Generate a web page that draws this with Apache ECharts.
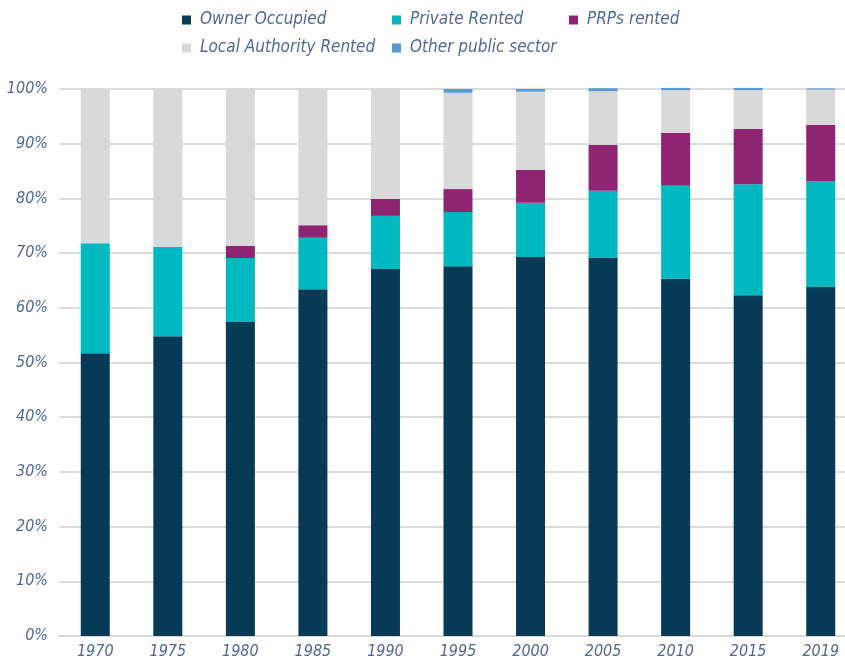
<!DOCTYPE html>
<html>
<head>
<meta charset="utf-8">
<script src="https://cdn.jsdelivr.net/npm/echarts@6/dist/echarts.min.js"></script>
<style>
html,body{margin:0;padding:0;background:#fff;}
#chart{width:845px;height:660px;}
</style>
</head>
<body>
<div id="chart"></div>
<script>
var years = ['1970','1975','1980','1985','1990','1995','2000','2005','2010','2015','2019'];
var ownerOccupied = [51.7, 54.8, 57.4, 63.4, 67.1, 67.6, 69.3, 69.1, 65.3, 62.3, 63.8];
var privateRented = [20.1, 16.3, 11.7, 9.4, 9.7, 9.9, 9.9, 12.3, 17.0, 20.3, 19.4];
var prpsRented = [0, 0, 2.2, 2.3, 3.1, 4.2, 6.0, 8.4, 9.7, 10.1, 10.2];
var localAuthority = [28.2, 28.9, 28.7, 24.9, 20.1, 17.6, 14.3, 9.8, 7.8, 7.1, 6.5];
var otherPublic = [0, 0, 0, 0, 0, 0.7, 0.5, 0.55, 0.4, 0.4, 0.2];
var yTicks = [0, 10, 20, 30, 40, 50, 60, 70, 80, 90, 100];

var seriesNames = ['Owner Occupied','Private Rented','PRPs rented','Local Authority Rented','Other public sector'];
var seriesColors = ['#063a57','#00b8bf','#8e2472','#d9d9d9','#5b9bd5'];
var seriesData = [ownerOccupied, privateRented, prpsRented, localAuthority, otherPublic];

var FONT = '"DejaVu Sans Condensed", "DejaVu Sans", sans-serif';
var TXT = '#4f6896';

var legendPos = [[182, 11], [392, 11], [569, 11], [182, 39], [392, 39]];

var chart = echarts.init(document.getElementById('chart'), null, {renderer:'canvas'});
var option = {
  animation: false,
  backgroundColor: '#ffffff',
  grid: {left: 59, width: 798, top: 89, bottom: 24, containLabel: false, outerBoundsMode: 'none'},
  legend: seriesNames.map(function(n, i){
    return {
      data: [n], left: legendPos[i][0], top: legendPos[i][1], padding: 0,
      icon: 'rect', itemWidth: 9, itemHeight: 9,
      textStyle: {color: TXT, fontFamily: FONT, fontStyle: 'italic', fontSize: 17, lineHeight: 18, padding: [0,0,0,4]}
    };
  }),
  xAxis: {
    type: 'category', data: years,
    axisLine: {show: true, lineStyle: {color: '#d9d9d9', width: 2}},
    axisTick: {show: false},
    axisLabel: {color: TXT, fontFamily: FONT, fontStyle: 'italic', fontSize: 16, margin: 8}
  },
  yAxis: {
    type: 'value', min: yTicks[0], max: yTicks[yTicks.length-1], interval: 10,
    axisLine: {show: false}, axisTick: {show: false},
    splitLine: {lineStyle: {color: '#dcdcdc', width: 2}},
    axisLabel: {color: TXT, fontFamily: FONT, fontStyle: 'italic', fontSize: 16, margin: 11, formatter: '{value}%'}
  },
  series: seriesNames.map(function(n, i){
    return {
      name: n, type: 'bar', stack: 'total', barWidth: 29, clip: false,
      itemStyle: {color: seriesColors[i]},
      data: seriesData[i]
    };
  })
};
chart.setOption(option);
</script>
</body>
</html>
